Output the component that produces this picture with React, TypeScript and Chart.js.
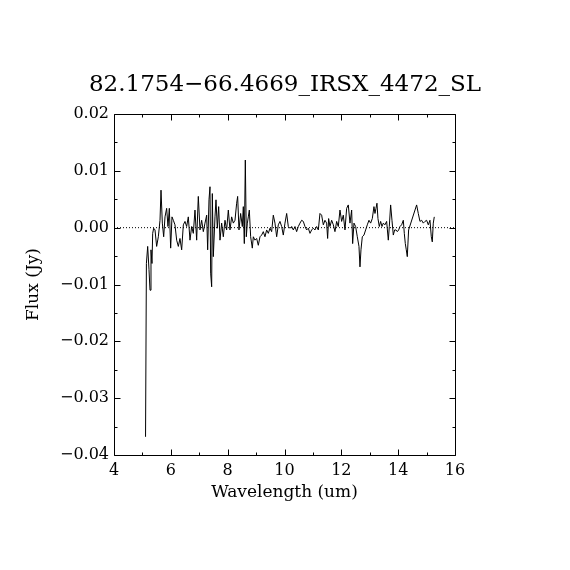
import React, { useEffect, useRef } from "react";
import { Chart, registerables } from "chart.js";

Chart.register(...registerables);

const TITLE = "82.1754\u221266.4669_IRSX_4472_SL";
const X_LABEL = "Wavelength (um)";
const Y_LABEL = "Flux (Jy)";

const wavelength = [
  5.11, 5.14, 5.185, 5.232, 5.267, 5.302, 5.337, 5.361, 5.396, 5.443,
  5.501, 5.56, 5.619, 5.654, 5.701, 5.748, 5.795, 5.853, 5.9, 5.947,
  5.994, 6.041, 6.088, 6.146, 6.205, 6.264, 6.322, 6.381, 6.44, 6.498,
  6.557, 6.615, 6.674, 6.733, 6.791, 6.85, 6.909, 6.967, 7.026, 7.085,
  7.143, 7.202, 7.261, 7.296, 7.343, 7.378, 7.401, 7.437, 7.46, 7.495,
  7.554, 7.589, 7.636, 7.683, 7.73, 7.788, 7.847, 7.906, 7.964, 8.023,
  8.082, 8.14, 8.199, 8.258, 8.316, 8.351, 8.398, 8.457, 8.516, 8.551,
  8.586, 8.621, 8.656, 8.692, 8.727, 8.762, 8.809, 8.867, 8.903, 8.961,
  9.02, 9.078, 9.137, 9.196, 9.254, 9.313, 9.372, 9.43, 9.489, 9.548,
  9.606, 9.665, 9.724, 9.782, 9.841, 9.9, 9.958, 10.017, 10.076, 10.134,
  10.193, 10.252, 10.31, 10.369, 10.427, 10.486, 10.545, 10.603, 10.662, 10.721,
  10.779, 10.838, 10.897, 10.955, 11.014, 11.072, 11.131, 11.19, 11.248, 11.307,
  11.366, 11.424, 11.483, 11.518, 11.553, 11.6, 11.659, 11.718, 11.776, 11.835,
  11.893, 11.952, 12.011, 12.069, 12.128, 12.187, 12.245, 12.304, 12.363, 12.398,
  12.445, 12.503, 12.562, 12.621, 12.656, 12.691, 12.738, 12.797, 12.855, 12.914,
  12.973, 13.031, 13.09, 13.148, 13.184, 13.219, 13.254, 13.289, 13.336, 13.383,
  13.43, 13.477, 13.535, 13.594, 13.653, 13.688, 13.735, 13.782, 13.829, 13.876,
  13.923, 13.97, 14.017, 14.063, 14.122, 14.181, 14.216, 14.251, 14.286, 14.321,
  14.368, 14.65, 14.708, 14.767, 14.826, 14.884, 14.943, 15.002, 15.06, 15.119,
  15.166, 15.201, 15.236, 15.271,
];

const flux = [
  -0.0368, -0.0063, -0.0033, -0.0074, -0.011, -0.0039, -0.0063, -0.001, -0.0001, -0.0004,
  -0.0033, -0.0016, 0.0013, 0.0066, 0.0008, -0.0016, 0.0019, 0.0034, 0.0002, 0.0034,
  -0.0036, 0.0019, 0.0013, 0.0005, -0.0022, -0.0033, -0.0019, -0.0039, 0.0005, 0.0011,
  0.0002, 0.0019, -0.0022, 0.0002, -0.001, 0.0031, -0.0022, 0.0055, -0.0004, 0.0013,
  -0.0007, 0.0008, 0.0022, -0.0039, 0.0049, 0.0072, -0.008, -0.0104, 0.006, -0.0051,
  0.0019, 0.0049, -0.0001, 0.0037, -0.0022, 0.0008, -0.0016, 0.0013, -0.0004, 0.0031,
  -0.0004, 0.0019, 0.0008, 0.0013, 0.0043, 0.0055, -0.0004, 0.0025, 0.0002, 0.0037,
  -0.0028, 0.0119, -0.0016, 0.0008, 0.0019, 0.0031, -0.0016, -0.0036, -0.0016, -0.0022,
  -0.0019, -0.0031, -0.0016, -0.0013, -0.0007, -0.0016, -0.0004, -0.001, -0.0001, -0.0007,
  0.0022, 0.0008, -0.0016, 0.0005, 0.0011, 0.0002, -0.0013, 0.0008, 0.0025, 0.0002,
  -0.0001, 0.0002, -0.0004, 0.0002, -0.0007, 0.0002, 0.0008, 0.0013, 0.0011, 0.0002,
  -0.0004, -0.0001, -0.001, -0.0004, -0.0001, -0.0004, 0.0002, -0.0004, 0.0025, 0.0022,
  0.0005, 0.0013, 0.0008, -0.0019, 0.0016, 0.0002, 0.0013, 0.0005, -0.0007, 0.0011,
  0.0002, 0.0031, 0.0011, 0.0022, -0.0004, 0.0034, 0.004, 0.0008, 0.0031, -0.0028,
  0.0008, 0.0002, -0.0016, -0.0033, -0.0069, -0.0039, -0.0016, -0.0013, -0.0004, 0.0005,
  0.0013, 0.0008, 0.0016, 0.0037, 0.0025, 0.0034, 0.0043, 0.0016, 0.0002, 0.0011,
  0.0002, 0.0008, 0.0005, 0.0011, -0.0022, 0.0002, 0.004, 0.0013, -0.0013, -0.0004,
  -0.0004, -0.0007, -0.0004, 0.0002, 0.0005, 0.0013, -0.001, -0.0028, -0.0039, -0.0051,
  -0.0004, 0.004, 0.0025, 0.0011, 0.0013, 0.0008, 0.0011, 0.0013, 0.0005, 0.0013,
  -0.0016, -0.0025, 0.0008, 0.0019,
];

const zeroLineX = [4, 16];
const zeroLineY = [0, 0];

const X_MIN = 4;
const X_MAX = 16;
const Y_MIN = -0.04;
const Y_MAX = 0.02;
const xMajorTicks = [4, 6, 8, 10, 12, 14, 16];
const xMinorTicks = [5, 7, 9, 11, 13, 15];
const yMajorTicks = [-0.04, -0.03, -0.02, -0.01, 0, 0.01, 0.02];
const yMinorTicks = [-0.035, -0.025, -0.015, -0.005, 0.005, 0.015];

const FONT = "'DejaVu Serif', 'Liberation Serif', serif";

const framePlugin = {
  id: "frameTicks",
  afterDatasetsDraw(chart: any) {
    const { ctx, chartArea: a, scales } = chart;
    const xs = scales.x;
    const ys = scales.y;
    const L = Math.round(a.left) + 0.5;
    const R = Math.round(a.right) + 0.5;
    const T = Math.round(a.top) + 0.5;
    const B = Math.round(a.bottom) + 0.5;
    ctx.save();
    ctx.strokeStyle = "#000";
    ctx.lineWidth = 1;
    ctx.beginPath();
    ctx.rect(L, T, R - L, B - T);
    const xt = (v: number, len: number) => {
      const p = Math.round(xs.getPixelForValue(v)) + 0.5;
      ctx.moveTo(p, B);
      ctx.lineTo(p, B - len);
      ctx.moveTo(p, T);
      ctx.lineTo(p, T + len);
    };
    const yt = (v: number, len: number) => {
      const p = Math.round(ys.getPixelForValue(v)) + 0.5;
      ctx.moveTo(L, p);
      ctx.lineTo(L + len, p);
      ctx.moveTo(R, p);
      ctx.lineTo(R - len, p);
    };
    xMajorTicks.forEach((v) => xt(v, 6));
    xMinorTicks.forEach((v) => xt(v, 3));
    yMajorTicks.forEach((v) => yt(v, 6));
    yMinorTicks.forEach((v) => yt(v, 3));
    ctx.stroke();
    ctx.restore();
  },
};

export default function App() {
  const ref = useRef<HTMLCanvasElement | null>(null);

  useEffect(() => {
    if (!ref.current) return;
    const chart = new Chart(ref.current, {
      type: "line",
      data: {
        datasets: [
          {
            data: wavelength.map((w, i) => ({ x: w, y: flux[i] })),
            borderColor: "#000",
            borderWidth: 1,
            pointRadius: 0,
            tension: 0,
            fill: false,
          },
          {
            data: zeroLineX.map((w, i) => ({ x: w, y: zeroLineY[i] })),
            borderColor: "#000",
            borderWidth: 1,
            borderDash: [1, 2],
            pointRadius: 0,
            fill: false,
          },
        ],
      },
      options: {
        animation: false,
        responsive: false,
        events: [],
        layout: { padding: 0 },
        plugins: {
          legend: { display: false },
          tooltip: { enabled: false },
          title: {
            display: true,
            text: TITLE,
            color: "#000",
            font: { family: FONT, size: 23, weight: "normal" },
            padding: { top: 71, bottom: 15.4 },
          },
        },
        scales: {
          x: {
            type: "linear",
            position: "bottom",
            min: X_MIN,
            max: X_MAX,
            grid: { display: false, drawTicks: false },
            border: { display: false },
            ticks: {
              stepSize: 2,
              autoSkip: false,
              maxRotation: 0,
              padding: 6,
              color: "#000",
              font: { family: FONT, size: 16 },
              callback: (v: any) => String(v),
            },
            title: {
              display: true,
              text: X_LABEL,
              color: "#000",
              font: { family: FONT, size: 17 },
              padding: { top: 0, bottom: 67 },
            },
            afterFit: (s: any) => {
              s.height = 115;
            },
          },
          y: {
            type: "linear",
            position: "left",
            min: Y_MIN,
            max: Y_MAX,
            grid: { display: false, drawTicks: false },
            border: { display: false },
            ticks: {
              stepSize: 0.01,
              autoSkip: false,
              padding: 5,
              color: "#000",
              font: { family: FONT, size: 16 },
              callback: (v: any) => {
                const n = Number(v);
                const s = Math.abs(n).toFixed(2);
                return n < -1e-9 ? "\u2212" + s : s;
              },
            },
            title: {
              display: true,
              text: Y_LABEL,
              color: "#000",
              font: { family: FONT, size: 17 },
              padding: { top: 23, bottom: 0 },
            },
            afterFit: (s: any) => {
              s.width = 114;
            },
          },
          y2: {
            type: "linear",
            position: "right",
            min: Y_MIN,
            max: Y_MAX,
            grid: { display: false, drawTicks: false },
            border: { display: false },
            ticks: { display: false },
            afterFit: (s: any) => {
              s.width = 115;
            },
          },
        },
      },
      plugins: [framePlugin],
    });
    return () => chart.destroy();
  }, []);

  return (
    <div style={{ position: "absolute", left: 0, top: 0, width: 570, height: 570, background: "#fff" }}>
      <canvas ref={ref} width={570} height={570} style={{ display: "block" }} />
    </div>
  );
}
